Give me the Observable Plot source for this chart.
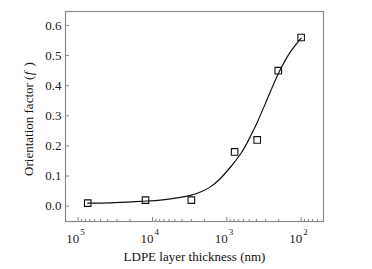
<!DOCTYPE html>
<html>
<head>
<meta charset="utf-8">
<script src="https://cdn.jsdelivr.net/npm/d3@7"></script>
<script src="https://cdn.jsdelivr.net/npm/@observablehq/plot@0.6"></script>
<style>
  html, body { margin: 0; padding: 0; background: #fff; }
  svg text { font-family: "Liberation Serif", "Times New Roman", serif; }
</style>
</head>
<body>
<div id="chart"></div>
<script>
// Measured points: LDPE layer thickness (nm) vs orientation factor f
const thickness = [74300, 12400, 3000, 785, 390, 203, 100];
const orientation = [0.01, 0.02, 0.02, 0.18, 0.22, 0.45, 0.56];

// Fitted curve
const fitThickness = [74300, 36700, 14500, 7800, 4200, 3080, 2260, 1660, 1220, 890, 650, 555, 480, 390, 300, 203, 145, 100];
const fitOrientation = [0.010, 0.011, 0.016, 0.020, 0.029, 0.036, 0.047, 0.064, 0.092, 0.130, 0.174, 0.202, 0.232, 0.278, 0.343, 0.440, 0.506, 0.558];

const yTicks = [0.0, 0.1, 0.2, 0.3, 0.4, 0.5, 0.6];
const xMajor = [1e5, 1e4, 1e3, 1e2];
const xMinor = [];
for (const p of [1e4, 1e3, 1e2, 1e1]) for (let m = 2; m <= 9; m++) xMinor.push(m * p);

const xTitle = "LDPE layer thickness (nm)";
const yTitleParts = ["Orientation factor (", "f", " )"];

const points = thickness.map((t, i) => ({t, f: orientation[i]}));
const fit = fitThickness.map((t, i) => ({t, f: fitOrientation[i]}));

const W = 372, H = 269;
const mL = 65, mR = 49, mT = 11, mB = 48;
const innerW = W - mL - mR, innerH = H - mT - mB;
const gray = "#8a8a8a";
const serif = "Liberation Serif";

const xDomain = [148000, 50];
const minorIn = xMinor.filter(v => v <= xDomain[0] && v >= xDomain[1]);

// y title laid out as three start-anchored pieces flowing upward (Times metrics at 13px)
const fs = 13;
const w1 = 7.72 * fs, w2 = 0.36 * fs;
const start = 3 + (w1 + w2 + 0.6 * fs) / 2;
const yTitleMark = (txt, off, italic) => Plot.text([txt], {
  text: d => d, frameAnchor: "left", textAnchor: "start", rotate: -90, lineAnchor: "middle",
  dx: -37, dy: start - off, fill: "#111", fontFamily: serif, fontSize: fs, fontStyle: italic ? "italic" : "normal"
});

const chart = Plot.plot({
  width: W,
  height: H,
  marginLeft: mL,
  marginRight: mR,
  marginTop: mT,
  marginBottom: mB,
  style: {fontFamily: serif, fontSize: "13px", background: "#fff", color: "#111"},
  x: {type: "log", domain: xDomain, axis: null},
  y: {domain: [-0.051, 0.6465], axis: null},
  marks: [
    Plot.frame({stroke: gray, strokeWidth: 1.2}),
    Plot.tickY(yTicks, {y: d => d, insetRight: innerW - 4, stroke: gray, strokeWidth: 1}),
    Plot.tickX(xMajor, {x: d => d, insetTop: innerH - 4, stroke: gray, strokeWidth: 1}),
    Plot.tickX(minorIn, {x: d => d, insetTop: innerH - 2.2, stroke: gray, strokeWidth: 1}),
    Plot.text(yTicks, {y: d => d, text: d => d.toFixed(1), frameAnchor: "left", textAnchor: "end", dx: -4, fill: "#222", fontFamily: serif, fontSize: 13}),
    Plot.text(xMajor, {x: d => d, text: () => "10", frameAnchor: "bottom", textAnchor: "end", lineAnchor: "bottom", dx: 1, dy: 21, fill: "#222", fontFamily: serif, fontSize: 13}),
    Plot.text(xMajor, {x: d => d, text: d => String(Math.round(Math.log10(d))), frameAnchor: "bottom", textAnchor: "start", lineAnchor: "bottom", dx: 2, dy: 13.5, fontSize: 9, fill: "#222", fontFamily: serif}),
    Plot.text([xTitle], {text: d => d, frameAnchor: "bottom", textAnchor: "middle", lineAnchor: "bottom", dy: 39, fill: "#111", fontFamily: serif, fontSize: 13}),
    yTitleMark(yTitleParts[0], 0, false),
    yTitleMark(yTitleParts[1], w1 + 0.3, true),
    yTitleMark(yTitleParts[2], w1 + w2 + 1.2, false),
    Plot.line(fit, {x: "t", y: "f", curve: "catmull-rom", stroke: "#111", strokeWidth: 1.2}),
    Plot.dot(points, {x: "t", y: "f", symbol: "square", r: 3.7, stroke: "#111", strokeWidth: 1.1, fill: "none"})
  ]
});

document.getElementById("chart").append(chart);
</script>
</body>
</html>
